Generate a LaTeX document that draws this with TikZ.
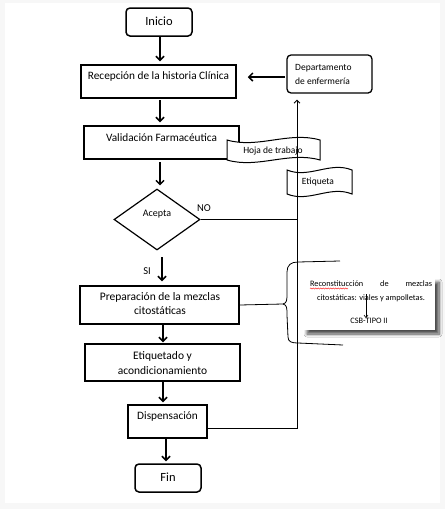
\documentclass[tikz,border=0pt]{standalone}
\usepackage{fontspec}
\setmainfont{Carlito}
\usetikzlibrary{arrows.meta,shapes.geometric,shadows.blur,decorations.pathmorphing,calc}
\tikzset{
  box/.style={draw, line width=1.5pt, rectangle, inner sep=0pt},
  term/.style={box, rounded corners=4pt},
  txt/.style={inner sep=0pt, font=\fontsize{11.3}{12}\selectfont, align=center},
  small/.style={inner sep=0pt, font=\fontsize{9.5}{10}\selectfont},
  arr/.style={line width=1.5pt, -{Straight Barb[length=4pt,width=8pt,line width=1.5pt]}},
  thinline/.style={line width=0.8pt},
  wavebox/.style={draw, line width=1pt, fill=white},
}
\begin{document}
\begin{tikzpicture}[x=1pt,y=-1pt]
\useasboundingbox (0,0) rectangle (445,509);
\fill[gray!6] (0,0) rectangle (445,509);
\fill[white] (5,3) rectangle (440,503);

% main boxes
\node[term, minimum width=66pt, minimum height=28pt] (inicio) at (159,22) {};
\node[txt, font=\fontsize{12.5}{12}\selectfont] (tinicio) at (159,21.5) {Inicio};
\node[box, minimum width=155pt, minimum height=33pt] (recep) at (158.5,81.5) {};
\node[txt] (trecep) at (158.5,76) {Recepción de la historia Clínica};
\node[box, minimum width=155pt, minimum height=33pt] (valid) at (161.5,142.5) {};
\node[txt] (tvalid) at (161.5,137.5) {Validación Farmacéutica};

\node[term, line width=1.3pt, minimum width=85pt, minimum height=38pt] (dept) at (329.5,74) {};
\node[small, align=left, anchor=west, font=\fontsize{9.5}{14}\selectfont] (tdept) at (295,74) {Departamento\\de enfermería};

% wave shapes
\draw[wavebox] (227,140) .. controls (258,149) and (289,131) .. (320,140)
  -- (320,160) .. controls (289,151) and (258,169) .. (227,160) -- cycle;
\node[small] (hoja) at (273,151) {Hoja de trabajo};
\draw[wavebox] (287,170) .. controls (309,179) and (330,161) .. (352,170)
  -- (352,194) .. controls (330,185) and (309,203) .. (287,194) -- cycle;
\node[small] (etiqueta) at (318,182) {Etiqueta};

\node[draw, diamond, line width=1.2pt, inner sep=0pt, minimum width=86pt, minimum height=61pt] (acepta) at (157,219.5) {};
\node[small, font=\fontsize{10}{10}\selectfont] (tacepta) at (157,214.5) {Acepta};
\node[txt, font=\fontsize{10.5}{10}\selectfont] (no) at (204,208) {NO};
\node[txt, font=\fontsize{10.5}{10}\selectfont] (si) at (147,271) {SI};

\node[box, minimum width=159pt, minimum height=38pt] (prep) at (159.5,305) {};
\node[txt, font=\fontsize{11.5}{14}\selectfont] (tprep) at (160,304) {Preparación de la mezclas\\citostáticas};
\node[box, minimum width=155pt, minimum height=37pt] (etiq) at (162.5,362.5) {};
\node[txt, font=\fontsize{11.5}{15}\selectfont] (tetiq) at (162.5,363.5) {Etiquetado y\\acondicionamiento};
\node[box, minimum width=79pt, minimum height=33pt] (disp) at (167.5,421.5) {};
\node[txt, font=\fontsize{11.3}{12}\selectfont] (tdisp) at (167.5,416.5) {Dispensación};
\node[term, minimum width=66pt, minimum height=28pt] (fin) at (168,478) {};
\node[txt, font=\fontsize{12.5}{12}\selectfont] (tfin) at (168,477.5) {Fin};

% right text box
\node[fill=white, blur shadow={shadow xshift=4pt, shadow yshift=-4pt, shadow blur steps=8, shadow blur radius=3pt, shadow opacity=70}, minimum width=132pt, minimum height=52pt, inner sep=0pt] (rbox) at (369,304) {};
\node[small, font=\fontsize{8.3}{9}\selectfont] (r1) at (371,283.5) {\makebox[122pt][s]{Reconstitucción de mezclas}};
\node[small, font=\fontsize{8.3}{9}\selectfont] (r2) at (371,298.5) {citostáticas: viales y ampolletas.};
\node[small, font=\fontsize{8.3}{9}\selectfont] (csb) at (369,321) {CSB-TIPO II};
\draw[red, line width=0.4pt, decorate, decoration={snake, amplitude=0.6pt, segment length=2.5pt}] (310,288.5) -- (348,288.5);
\coordinate (rarr) at (366,294);
\draw[line width=0.6pt, -{Straight Barb[length=2.5pt,width=4pt]}] (rarr) -- (rarr |- csb.north);

% brace
\coordinate (bt) at (283,304);
\draw[thinline] (prep.east) -- (bt) .. controls (287,303) and (287,300) .. (287,293)
  -- (287,272) .. controls (287,265) and (291,262) .. (298,262) -- (340,261);
\draw[thinline] (bt) .. controls (287,305) and (287,308) .. (287,315)
  -- (288,337) .. controls (288,342) and (292,343) .. (298,343) -- (343,345);

% main arrows
\coordinate (a1) at (160,36);
\draw[arr, shorten >=3pt] (a1) -- (a1 |- recep.north);
\coordinate (a2) at (160,100);
\draw[arr, shorten >=3pt] (a2) -- (a2 |- valid.north);
\coordinate (a3) at (160,162);
\draw[arr, shorten >=3pt] (a3) -- (a3 |- acepta.north);
\coordinate (a4) at (162,257);
\draw[arr, shorten >=4pt] (a4) -- (a4 |- prep.north);
\coordinate (a5) at (163,324);
\draw[arr, shorten >=1pt] (a5) -- (a5 |- etiq.north);
\coordinate (a6) at (163,381);
\draw[arr, shorten >=2pt] (a6) -- (a6 |- disp.north);
\coordinate (a7) at (166,438);
\draw[arr, shorten >=2pt] (a7) -- (a7 |- fin.north);

% dept -> recepcion
\coordinate (d1) at (285,77);
\draw[arr, shorten >=11pt] (d1) -- (d1 -| recep.east);

% feedback line
\coordinate (j) at (297,428);
\draw[thinline] (acepta.east) -- (acepta.east -| j);
\draw[thinline, -{Straight Barb[length=3pt,width=6pt]}, shorten >=6pt] ([yshift=-6.5pt]disp.east) -- (j) -- (j |- dept.south);
\end{tikzpicture}
\end{document}
